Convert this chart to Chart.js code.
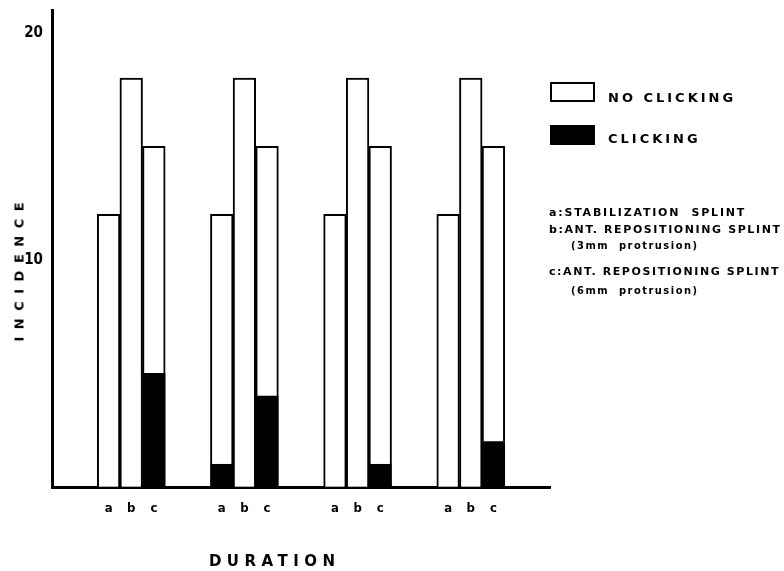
<!DOCTYPE html>
<html>
<head>
<meta charset="utf-8">
<script src="https://cdn.jsdelivr.net/npm/chart.js@4.4.0/dist/chart.umd.min.js"></script>
<style>
  body { margin: 0; background: #fff; }
  #wrap { position: relative; width: 784px; height: 571px; overflow: hidden; }
  #wrap canvas { position: absolute; left: 0; top: 0; }
  .txt { position: absolute; color: #000; font-weight: bold; white-space: nowrap; line-height: 1; }
  .wide { font-family: "DejaVu Sans", sans-serif; }
  .narrow { font-family: "Liberation Sans Narrow", "DejaVu Sans Condensed", sans-serif; }
  .box { position: absolute; width: 45px; height: 20px; box-sizing: border-box; border: 2px solid #000; }
</style>
</head>
<body>
<div id="wrap">
  <canvas id="chart" width="784" height="571"></canvas>

  <!-- axis titles -->
  <div class="txt wide" style="font-size:13px;letter-spacing:7.5px;left:19px;top:272px;transform:translate(-50%,-50%) rotate(-90deg);padding-left:7.5px;">INCIDENCE</div>
  <div class="txt wide" style="font-size:15px;letter-spacing:5.5px;left:272px;top:561px;transform:translate(-50%,-50%);padding-left:5.5px;">DURATION</div>

  <!-- legend -->
  <div class="box" style="left:550px;top:82px;background:#fff;"></div>
  <div class="txt wide" style="font-size:13px;letter-spacing:3px;left:608px;top:91px;">NO CLICKING</div>
  <div class="box" style="left:550px;top:125px;background:#000;"></div>
  <div class="txt wide" style="font-size:13px;letter-spacing:3px;left:608px;top:132px;">CLICKING</div>

  <!-- splint notes -->
  <div class="txt wide" style="font-size:11px;letter-spacing:1.8px;left:549px;top:207px;">a:STABILIZATION&nbsp; SPLINT</div>
  <div class="txt wide" style="font-size:11px;letter-spacing:1.6px;left:549px;top:224px;">b:ANT. REPOSITIONING SPLINT</div>
  <div class="txt narrow" style="font-size:11px;letter-spacing:1.5px;left:571px;top:240px;">(3mm&nbsp; protrusion)</div>
  <div class="txt wide" style="font-size:11px;letter-spacing:1.6px;left:549px;top:266px;">c:ANT. REPOSITIONING SPLINT</div>
  <div class="txt narrow" style="font-size:11px;letter-spacing:1.5px;left:571px;top:285px;">(6mm&nbsp; protrusion)</div>
</div>

<script>
// Incidence of clicking by splint type over four durations

const durations = ['1', '2', '3', '4'];   // duration groups (not labelled in the figure)
const splints = ['a', 'b', 'c'];

// per duration: [a, b, c]
const clicking   = [[0, 0, 5], [1, 0, 4], [0, 0, 1], [0, 0, 2]];
const noClicking = [[12, 18, 10], [11, 18, 11], [12, 18, 14], [12, 18, 13]];

const yTickValues = [10, 20];
const yMax = 21;

// build bar slots: two blank slots at the ends and between the duration groups
const labels = [];
const clickingData = [];
const noClickingData = [];
function addGap() {
    for (let i = 0; i < 2; i++) {
        labels.push('');
        clickingData.push(null);
        noClickingData.push(null);
    }
}
addGap();
durations.forEach((d, g) => {
    splints.forEach((s, i) => {
        labels.push(s);
        clickingData.push(clicking[g][i]);
        noClickingData.push(noClicking[g][i]);
    });
    addGap();
});

new Chart(document.getElementById('chart'), {
    type: 'bar',
    data: {
        labels: labels,
        datasets: [{
            label: 'CLICKING',
            data: clickingData,
            backgroundColor: '#000',
            borderColor: '#000',
            borderWidth: 0,
            barPercentage: 1,
            categoryPercentage: 1
        }, {
            label: 'NO CLICKING',
            data: noClickingData,
            backgroundColor: '#fff',
            borderColor: '#000',
            borderWidth: 2,
            barPercentage: 1,
            categoryPercentage: 1
        }]
    },
    options: {
        responsive: false,
        animation: false,
        layout: {
            padding: { left: 0, top: 10, right: 234, bottom: 0 }
        },
        plugins: {
            legend: { display: false },
            tooltip: { enabled: false }
        },
        scales: {
            x: {
                stacked: true,
                grid: { display: false },
                border: { display: true, color: '#000', width: 3 },
                ticks: {
                    color: '#000',
                    autoSkip: false,
                    maxRotation: 0,
                    padding: 6,
                    font: { family: '"Liberation Sans Narrow", "DejaVu Sans Condensed", sans-serif', size: 13, weight: 'bold' }
                },
                afterFit: function(scale) {
                    scale.height = 84;
                }
            },
            y: {
                stacked: true,
                min: 0,
                max: yMax,
                grid: { display: false },
                border: { display: true, color: '#000', width: 3 },
                ticks: {
                    stepSize: 10,
                    includeBounds: false,
                    color: '#000',
                    padding: 1,
                    font: { family: '"Liberation Sans Narrow", "DejaVu Sans Condensed", sans-serif', size: 15, weight: 'bold' },
                    callback: function(value) {
                        return yTickValues.includes(value) ? value : '';
                    }
                },
                afterFit: function(scale) {
                    scale.width = 52;
                }
            }
        }
    }
});
</script>
</body>
</html>
